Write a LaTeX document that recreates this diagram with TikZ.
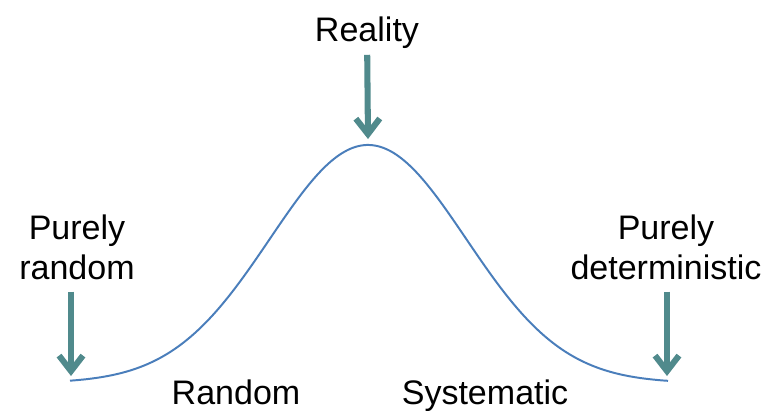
\documentclass[tikz,border=0pt]{standalone}
\usepackage{fontspec}
\setmainfont{Liberation Sans}
\usetikzlibrary{arrows.meta,positioning}
\definecolor{arrowteal}{RGB}{80,138,140}
\definecolor{curveblue}{RGB}{74,126,187}
\tikzset{
  pointer/.style={-{Straight Barb[length=11pt,width=17pt]},line width=4.3pt,draw=arrowteal},
  bell/.style={draw=curveblue,line width=1.4pt},
  tag/.style={align=center,inner sep=8pt}
}
\begin{document}
\begin{tikzpicture}[x=0.025cm,y=-0.025cm,font=\fontsize{24.2}{28.5}\selectfont]
  \useasboundingbox (0,0) rectangle (766,410);
  \draw[bell] plot[domain=70:668,samples=120,smooth] (\x,{383-238*exp(-0.5*((\x-368)/98)^2)});
  \coordinate (peak) at (368,139);
  \coordinate (lefttail) at (71,376);
  \coordinate (righttail) at (667,376);
  \node[tag,inner sep=4pt] (reality) at (367,33) {Reality};
  \node[tag] (purerandom) at (77,247.5) {Purely\\random};
  \node[tag] (puredeterm) at (666,247.5) {Purely\\deterministic};
  \node[tag] (randomlbl) at (236,392.5) {Random};
  \node[tag] (systemlbl) at (485,396) {Systematic};
  \draw[pointer] (reality) -- (peak);
  \draw[pointer] (purerandom.south -| lefttail) -- (lefttail);
  \draw[pointer] (puredeterm.south -| righttail) -- (righttail);
\end{tikzpicture}
\end{document}
